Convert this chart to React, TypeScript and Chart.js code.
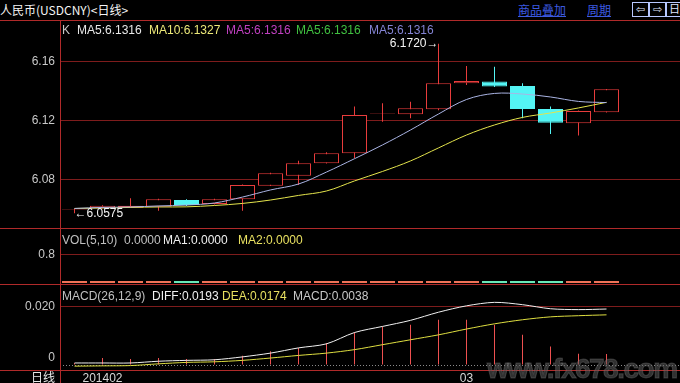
import React, { useEffect, useRef } from 'react';
import { Chart, registerables } from 'chart.js';

Chart.register(...registerables);

// ---------------- data ----------------
const OPEN = [6.0600, 6.0608, 6.0612, 6.0619, 6.0664, 6.0637, 6.0669, 6.0761, 6.0828, 6.0912,
  6.0980, 6.1248, 6.1243, 6.1277, 6.1453, 6.1464, 6.1434, 6.1279, 6.1182, 6.1257];
const HIGH = [6.0606, 6.0628, 6.0676, 6.0672, 6.0670, 6.0672, 6.0768, 6.0848, 6.0930, 6.0986,
  6.1295, 6.1318, 6.1328, 6.1720, 6.1570, 6.1565, 6.1453, 6.1295, 6.1268, 6.1414];
const LOW = [6.0575, 6.0606, 6.0610, 6.0592, 6.0624, 6.0634, 6.0592, 6.0758, 6.0766, 6.0910,
  6.0946, 6.1193, 6.1216, 6.1270, 6.1441, 6.1428, 6.1216, 6.1110, 6.1099, 6.1255];
const CLOSE = [6.0603, 6.0626, 6.0626, 6.0669, 6.0630, 6.0669, 6.0766, 6.0845, 6.0912, 6.0980,
  6.1239, 6.1251, 6.1284, 6.1453, 6.1468, 6.1430, 6.1279, 6.1186, 6.1266, 6.1412];
const MA5 = [6.0607, 6.0614, 6.0617, 6.0624, 6.0630, 6.0644, 6.0684, 6.0732, 6.0772, 6.0853,
  6.0943, 6.1036, 6.1137, 6.1245, 6.1343, 6.1384, 6.1380, 6.1360, 6.1330, 6.1322];
const MA10 = [6.0607, 6.0610, 6.0614, 6.0617, 6.0618, 6.0627, 6.0641, 6.0664, 6.0695, 6.0725,
  6.0793, 6.0857, 6.0928, 6.1016, 6.1103, 6.1171, 6.1222, 6.1252, 6.1286, 6.1324];
const VOLUME = [0, 0, 0, 0, 0, 0, 0, 0, 0, 0, 0, 0, 0, 0, 0, 0, 0, 0, 0, 0];
const DIFF = [0.0007, 0.0007, 0.0007, 0.0013, 0.0016, 0.0018, 0.0028, 0.0041, 0.0059, 0.0073,
  0.0112, 0.0133, 0.0154, 0.0182, 0.0204, 0.0216, 0.0208, 0.0194, 0.0191, 0.0193];
const DEA = [-0.0004, -0.0003, -0.0002, 0.0004, 0.0009, 0.0011, 0.0016, 0.0024, 0.0033, 0.0041,
  0.0053, 0.0070, 0.0087, 0.0104, 0.0124, 0.0142, 0.0156, 0.0166, 0.0170, 0.0173];
const MACD = [0.0007, 0.0024, 0.0021, 0.0024, 0.0021, 0.0021, 0.0032, 0.0047, 0.0059, 0.0076,
  0.0113, 0.0133, 0.0139, 0.0156, 0.0156, 0.0139, 0.0104, 0.0064, 0.0039, 0.0038];

const MAIN_TICKS = [6.08, 6.12, 6.16];
const VOL_TICKS = [0.8];
const MACD_TICKS = [0, 0.02];
const X_TICK_INDEX = [1, 14];
const X_TICK_TEXT = ['201402', '03'];

// ---------------- styles / layout ----------------
const FONT = '"Liberation Sans", Arial, sans-serif';
const CJK = '"Noto Sans CJK SC", "Noto Sans", sans-serif';
const BG = '#000000';
const SEP = '#b02a2a';
const GRID = '#7e1c1c';
const UP = '#e83c3c';
const DOWN = '#54f4f4';
const MA5_C = '#aab4e4';
const MA10_C = '#e4e44c';
const DIFF_C = '#f0f0f0';
const DEA_C = '#dede40';
const TICK_C = '#c8c8c8';
const VOL_UP = '#f07458';
const VOL_DOWN = '#6ae8b8';

const X_MIN = -0.518;
const X_MAX = 21.625;

Chart.defaults.font.family = FONT;
Chart.defaults.font.size = 12;

const IDX = OPEN.map((_, i) => i);
const isUp = (i: number) => CLOSE[i] >= OPEN[i];

const noPad = (s: any) => {
  s.paddingTop = 0;
  s.paddingBottom = 0;
  s.paddingLeft = 0;
  s.paddingRight = 0;
};

const xHidden = () => ({
  type: 'linear',
  min: X_MIN,
  max: X_MAX,
  offset: false,
  bounds: 'data',
  display: false,
  grid: { display: false, offset: false },
});

const yAxis = (min: number, max: number, ticks: number[], fmt: (v: number) => any, gridColor?: any) => ({
  type: 'linear',
  min,
  max,
  bounds: 'data',
  afterFit: (s: any) => { s.width = 60; noPad(s); },
  afterBuildTicks: (s: any) => { s.ticks = ticks.map((v) => ({ value: v })); },
  ticks: { color: TICK_C, padding: 5, font: { size: 12, family: FONT }, callback: (v: any) => fmt(Number(v)) },
  grid: { color: gridColor || GRID, drawTicks: false, lineWidth: 1 },
  border: { display: false },
});

const markerPlugin = {
  id: 'hlMarkers',
  afterDatasetsDraw(chart: any) {
    const { ctx, scales } = chart;
    const hi = HIGH.indexOf(Math.max(...HIGH));
    const lo = LOW.indexOf(Math.min(...LOW));
    ctx.save();
    ctx.font = '12px ' + FONT;
    ctx.fillStyle = '#f4f4f4';
    ctx.textBaseline = 'middle';
    ctx.textAlign = 'right';
    ctx.fillText(HIGH[hi].toFixed(4) + '\u2192', scales.x.getPixelForValue(hi), scales.y.getPixelForValue(HIGH[hi]));
    ctx.textAlign = 'left';
    ctx.fillText('\u2190' + LOW[lo].toFixed(4), scales.x.getPixelForValue(lo), scales.y.getPixelForValue(LOW[lo]));
    ctx.restore();
  },
};

const zeroLinePlugin = {
  id: 'zeroLine',
  beforeDatasetsDraw(chart: any) {
    const { ctx, chartArea, scales } = chart;
    const py = Math.round(scales.y.getPixelForValue(0)) + 0.5;
    ctx.save();
    ctx.strokeStyle = '#8a8a8a';
    ctx.lineWidth = 1;
    ctx.setLineDash([1, 2]);
    ctx.beginPath();
    ctx.moveTo(chartArea.left, py);
    ctx.lineTo(chartArea.right, py);
    ctx.stroke();
    ctx.restore();
  },
};

const baseOptions = {
  responsive: false,
  animation: false,
  events: [],
  devicePixelRatio: 1,
  layout: { padding: 0, autoPadding: false },
  plugins: { legend: { display: false }, tooltip: { enabled: false } },
};

function mainConfig(): any {
  return {
    type: 'bar',
    data: {
      datasets: [
        { type: 'line', data: IDX.map((i) => ({ x: i, y: MA5[i] })), borderColor: MA5_C, borderWidth: 1, pointRadius: 0, tension: 0.35, order: 0 },
        { type: 'line', data: IDX.map((i) => ({ x: i, y: MA10[i] })), borderColor: MA10_C, borderWidth: 1, pointRadius: 0, tension: 0.35, order: 0 },
        {
          type: 'bar', data: IDX.map((i) => ({ x: i, y: [OPEN[i], CLOSE[i]] })),
          backgroundColor: IDX.map((i) => (isUp(i) ? BG : DOWN)),
          borderColor: IDX.map((i) => (isUp(i) ? UP : DOWN)),
          borderWidth: 1, borderSkipped: false, barThickness: 25, inflateAmount: 0, grouped: false, order: 1,
        },
        {
          type: 'bar', data: IDX.map((i) => ({ x: i, y: [LOW[i], HIGH[i]] })),
          backgroundColor: IDX.map((i) => (isUp(i) ? UP : DOWN)),
          borderWidth: 0, barThickness: 1, inflateAmount: 0, grouped: false, order: 2,
        },
      ],
    },
    options: {
      ...baseOptions,
      scales: {
        x: xHidden(),
        y: yAxis(6.0475, 6.1880, MAIN_TICKS, (v) => v.toFixed(2)),
      },
    },
    plugins: [markerPlugin],
  };
}

function volConfig(): any {
  return {
    type: 'bar',
    data: {
      datasets: [
        {
          data: IDX.map((i) => ({ x: i, y: VOLUME[i] })),
          backgroundColor: IDX.map((i) => (isUp(i) ? VOL_UP : VOL_DOWN)),
          borderWidth: 0, barThickness: 25, minBarLength: 2, inflateAmount: 0,
        },
      ],
    },
    options: {
      ...baseOptions,
      scales: {
        x: xHidden(),
        y: yAxis(-0.058, 1.561, VOL_TICKS, (v) => v.toFixed(1)),
      },
    },
  };
}

function macdConfig(): any {
  return {
    type: 'bar',
    data: {
      datasets: [
        { type: 'line', data: IDX.map((i) => ({ x: i, y: DIFF[i] })), borderColor: DIFF_C, borderWidth: 1, pointRadius: 0, tension: 0.3, order: 0 },
        { type: 'line', data: IDX.map((i) => ({ x: i, y: DEA[i] })), borderColor: DEA_C, borderWidth: 1, pointRadius: 0, tension: 0.3, order: 0 },
        {
          type: 'bar', data: IDX.map((i) => ({ x: i, y: MACD[i] })),
          backgroundColor: IDX.map((i) => (MACD[i] >= 0 ? '#ee5050' : DOWN)),
          borderWidth: 0, barThickness: 1, inflateAmount: 0, order: 1,
        },
      ],
    },
    options: {
      ...baseOptions,
      scales: {
        x: {
          type: 'linear', min: X_MIN, max: X_MAX, offset: false, bounds: 'data', display: true,
          afterFit: (s: any) => { s.height = 13; noPad(s); },
          afterBuildTicks: (s: any) => { s.ticks = X_TICK_INDEX.map((v) => ({ value: v })); },
          grid: { display: false, drawTicks: false, offset: false },
          border: { display: false },
          ticks: {
            color: '#d8d8d8', padding: 1, maxRotation: 0, autoSkip: false, font: { size: 12, family: FONT },
            callback: (v: any) => X_TICK_TEXT[X_TICK_INDEX.indexOf(Number(v))],
          },
        },
        y: yAxis(-0.001724, 0.02793, MACD_TICKS, (v) => (v === 0 ? ['0', ''] : v.toFixed(3)),
          (ctx: any) => (ctx.tick && ctx.tick.value === 0 ? 'rgba(0,0,0,0)' : GRID)),
      },
    },
    plugins: [zeroLinePlugin],
  };
}

const MAIN_LEGEND = [
  { text: 'K', color: '#c8c8c8' },
  { text: 'MA5:6.1316', color: '#e8e8e8' },
  { text: 'MA10:6.1327', color: '#ece878' },
  { text: 'MA5:6.1316', color: '#c040c0' },
  { text: 'MA5:6.1316', color: '#40c040' },
  { text: 'MA5:6.1316', color: '#8484d4' },
];
const MAIN_LEGEND_X = [62, 77, 149, 226, 296, 369];

const VOL_LEGEND = [
  { text: 'VOL(5,10)', color: '#c0c0c0' },
  { text: '0.0000', color: '#c0c0c0' },
  { text: 'MA1:0.0000', color: '#f0f0f0' },
  { text: 'MA2:0.0000', color: '#e8e060' },
];
const VOL_LEGEND_X = [62, 124, 163, 238];

const MACD_LEGEND = [
  { text: 'MACD(26,12,9)', color: '#c0c0c0' },
  { text: 'DIFF:0.0193', color: '#f0f0f0' },
  { text: 'DEA:0.0174', color: '#e8e060' },
  { text: 'MACD:0.0038', color: '#c8c8c8' },
];
const MACD_LEGEND_X = [62, 152, 222, 293];

const abs = (left: number, top: number, extra: any = {}) => ({ position: 'absolute' as const, left, top, ...extra });

function Legend({ items, xs, top }: { items: { text: string; color: string }[]; xs: number[]; top: number }) {
  return (
    <>
      {items.map((it, i) => (
        <div key={i} style={abs(xs[i], top, { color: it.color, fontFamily: FONT, fontSize: 12, lineHeight: '14px', whiteSpace: 'nowrap' })}>
          {it.text}
        </div>
      ))}
    </>
  );
}

export default function App() {
  const mainRef = useRef<HTMLCanvasElement>(null);
  const volRef = useRef<HTMLCanvasElement>(null);
  const macdRef = useRef<HTMLCanvasElement>(null);

  useEffect(() => {
    const charts = [
      new Chart(mainRef.current as HTMLCanvasElement, mainConfig()),
      new Chart(volRef.current as HTMLCanvasElement, volConfig()),
      new Chart(macdRef.current as HTMLCanvasElement, macdConfig()),
    ];
    return () => charts.forEach((c) => c.destroy());
  }, []);

  const hLine = (y: number) => <div style={abs(0, y, { width: 680, height: 1, background: SEP })} />;
  const iconBox = (x: number, t: string) => (
    <div style={abs(x, 2, { width: 15, height: 13, border: '1px solid #b8c8ff', color: '#e0e8ff', fontSize: 11, lineHeight: '13px', textAlign: 'center', fontFamily: '"DejaVu Sans", ' + CJK, overflow: 'hidden' })}>{t}</div>
  );

  return (
    <div style={{ position: 'fixed', left: 0, top: 0, width: 680, height: 383, background: BG, overflow: 'hidden' }}>
      <canvas ref={mainRef} width={680} height={208} style={abs(0, 20, { width: 680, height: 208 })} />
      <canvas ref={volRef} width={680} height={56} style={abs(0, 228, { width: 680, height: 56 })} />
      <canvas ref={macdRef} width={680} height={99} style={abs(0, 284, { width: 680, height: 99 })} />

      {hLine(20)}
      {hLine(228)}
      {hLine(284)}
      {hLine(370)}
      <div style={abs(60, 20, { width: 1, height: 363, background: SEP })} />

      <div style={abs(0, 2, { color: '#f4f4f4', fontFamily: CJK, fontSize: 12, lineHeight: '16px', whiteSpace: 'nowrap' })}>人民币(USDCNY)&lt;日线&gt;</div>
      <div style={abs(518, 2, { color: '#3c5ae0', fontFamily: CJK, fontSize: 12, lineHeight: '16px', textDecoration: 'underline', whiteSpace: 'nowrap' })}>商品叠加</div>
      <div style={abs(587, 2, { color: '#3c5ae0', fontFamily: CJK, fontSize: 12, lineHeight: '16px', textDecoration: 'underline', whiteSpace: 'nowrap' })}>周期</div>
      {iconBox(632, '\u21e6')}
      {iconBox(649, '\u21e8')}
      {iconBox(666, '日')}

      <Legend items={MAIN_LEGEND} xs={MAIN_LEGEND_X} top={23} />
      <Legend items={VOL_LEGEND} xs={VOL_LEGEND_X} top={233} />
      <Legend items={MACD_LEGEND} xs={MACD_LEGEND_X} top={289} />

      <div style={abs(31, 369, { color: '#e8e8e8', fontFamily: CJK, fontSize: 12, lineHeight: '16px' })}>日线</div>

      <div style={abs(487, 352, { color: 'rgba(90,90,90,0.55)', fontFamily: FONT, fontWeight: 'bold', fontSize: 28, lineHeight: '34px', letterSpacing: '-1.5px', whiteSpace: 'nowrap', WebkitTextStroke: '1px rgba(130,130,130,0.35)', pointerEvents: 'none' })}>www.fx678.com</div>
    </div>
  );
}
